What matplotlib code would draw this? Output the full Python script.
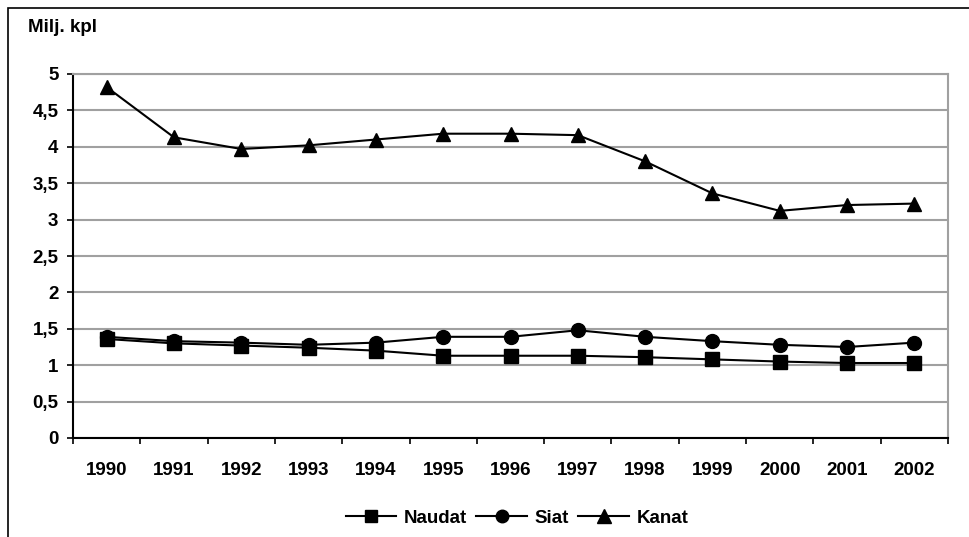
import matplotlib.pyplot as plt
import numpy as np
from matplotlib.patches import Rectangle

plt.rcParams['font.family'] = ['Liberation Sans', 'DejaVu Sans']
plt.rcParams['font.weight'] = 'bold'

# data
years = ['1990', '1991', '1992', '1993', '1994', '1995', '1996',
         '1997', '1998', '1999', '2000', '2001', '2002']
naudat = [1.36, 1.30, 1.27, 1.24, 1.20, 1.13, 1.13, 1.13, 1.11, 1.08, 1.05, 1.03, 1.03]
siat = [1.39, 1.33, 1.31, 1.28, 1.31, 1.39, 1.39, 1.48, 1.39, 1.33, 1.28, 1.25, 1.31]
kanat = [4.82, 4.13, 3.97, 4.02, 4.10, 4.18, 4.18, 4.16, 3.80, 3.36, 3.12, 3.20, 3.22]

fig = plt.figure(figsize=(9.69, 5.37), dpi=100)
ax = fig.add_axes([73/969, 1 - 438/537, (948 - 73)/969, (438 - 74)/537])

x = np.arange(len(years))
ax.plot(x, naudat, color='black', lw=1.5, marker='s', ms=10, label='Naudat')
ax.plot(x, siat, color='black', lw=1.5, marker='o', ms=10, label='Siat')
ax.plot(x, kanat, color='black', lw=1.5, marker='^', ms=10.5, label='Kanat')

ax.set_xlim(-0.5, len(years) - 0.5)
ax.set_ylim(0, 5)
ax.set_yticks(np.arange(0, 5.01, 0.5))
ax.set_yticklabels(['0', '0,5', '1', '1,5', '2', '2,5', '3', '3,5', '4', '4,5', '5'])
ax.set_xticks(x)
ax.set_xticklabels(years)
ax.set_xticks(np.arange(-0.5, len(years), 1), minor=True)
ax.tick_params(axis='x', which='major', length=0, pad=17, labelsize=13.5)
ax.tick_params(axis='x', which='minor', length=4.5, width=1.2, direction='out')
ax.tick_params(axis='y', length=4.5, width=1.2, direction='out', labelsize=13.5, pad=6)

ax.grid(axis='y', color='#a0a0a0', lw=1.5)
ax.set_axisbelow(True)
ax.spines['left'].set_linewidth(1.5)
ax.spines['bottom'].set_linewidth(1.5)
ax.spines['top'].set_color('#a0a0a0')
ax.spines['right'].set_color('#a0a0a0')
ax.spines['top'].set_linewidth(1.5)
ax.spines['right'].set_linewidth(1.5)

fig.text(28/969, 1 - 28/537, 'Milj. kpl', fontsize=13.5, fontweight='bold', va='center')

fig.legend(loc='center', bbox_to_anchor=(517/969, 1 - 518/537), ncol=3,
           frameon=False, fontsize=13.5, handlelength=2.7, handletextpad=0.4,
           columnspacing=0.5, markerscale=0.9)

# chart frame (left and top edges visible)
fig.patches.append(Rectangle((8/969, -0.1), 1.2, 1 - 8/537 + 0.1, transform=fig.transFigure,
                             fill=False, edgecolor='black', lw=1.2))

fig.savefig('out.png', dpi=100)
